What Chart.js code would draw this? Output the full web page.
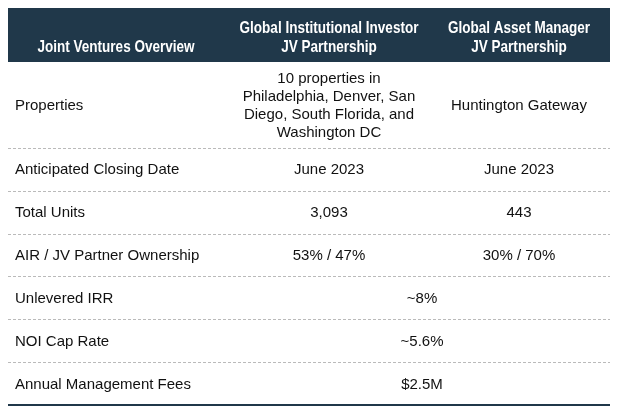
<!DOCTYPE html>
<html>
<head>
<meta charset="utf-8">
<script src="https://cdn.jsdelivr.net/npm/chart.js@4"></script>
<style>
  html, body { margin: 0; padding: 0; background: #fff; }
  canvas { display: block; }
</style>
</head>
<body>
<canvas id="myChart" width="640" height="406"></canvas>
<script>
  // table content
  const headers = [
    ['Joint Ventures Overview'],
    ['Global Institutional Investor', 'JV Partnership'],
    ['Global Asset Manager', 'JV Partnership']
  ]
  const rowLabels = ['Properties', 'Anticipated Closing Date', 'Total Units', 'AIR / JV Partner Ownership',
    'Unlevered IRR', 'NOI Cap Rate', 'Annual Management Fees']
  const institutionalJV = [
    ['10 properties in', 'Philadelphia, Denver, San', 'Diego, South Florida, and', 'Washington DC'],
    ['June 2023'], ['3,093'], ['53% / 47%'], null, null, null
  ]
  const assetManagerJV = [
    ['Huntington Gateway'], ['June 2023'], ['443'], ['30% / 70%'], null, null, null
  ]
  const combined = [null, null, null, null, ['~8%'], ['~5.6%'], ['$2.5M']]

  const ctx = document.getElementById('myChart')

  const unit = 42.875      // px per body row
  const headTop = -54 / unit

  // x in pixel units, y in row units (header above 0)
  const colX = { label: 15, head0: 116, c1: 329, c2: 519, both: 422, left: 8, right: 610 }

  const hasNarrow = (() => {
    const c = document.createElement('canvas').getContext('2d')
    c.font = 'bold 15px monospace'
    const a = c.measureText('Global Institutional Investor').width
    c.font = 'bold 15px "Liberation Sans Narrow", monospace'
    return c.measureText('Global Institutional Investor').width !== a
  })()

  const tablePlugin = {
    id: 'table',
    afterDraw(chart) {
      const g = chart.ctx
      const x = chart.scales.x, y = chart.scales.y
      const px = v => x.getPixelForValue(v)
      const py = v => y.getPixelForValue(v)

      // header band
      g.save()
      g.fillStyle = '#20384a'
      g.fillRect(px(colX.left), py(headTop), px(colX.right) - px(colX.left), py(0) - py(headTop))

      g.fillStyle = '#ffffff'
      g.textBaseline = 'middle'
      g.textAlign = 'center'
      const headFont = hasNarrow ? 'bold 16.5px "Liberation Sans Narrow"' : 'bold 16.5px "Liberation Sans", Arial'
      const sx = hasNarrow ? 1 : 0.82
      const hMid = (py(headTop) + py(0)) / 2 + 3
      const centers = [colX.head0, colX.c1, colX.c2]
      headers.forEach((lines, i) => {
        lines.forEach((t, j) => {
          const yy = lines.length === 1 ? hMid + 9.5 : hMid + (j - (lines.length - 1) / 2) * 19
          g.save()
          g.translate(px(centers[i]), yy)
          g.scale(sx, 1)
          g.font = headFont
          g.fillText(t, 0, 0)
          g.restore()
        })
      })

      // body rows
      g.font = '15px "Liberation Sans", Arial, sans-serif'
      g.fillStyle = '#111111'
      let r = 0
      rowLabels.forEach((label, i) => {
        const cells = [institutionalJV[i], assetManagerJV[i], combined[i]]
        const maxLines = Math.max(...cells.map(c => (c ? c.length : 1)))
        const span = maxLines > 1 ? 2 : 1
        const mid = py(r + span / 2) + 1

        g.textAlign = 'left'
        g.fillText(label, px(colX.label), mid)

        const drawCell = (lines, cx) => {
          if (!lines) return
          g.textAlign = 'center'
          lines.forEach((t, j) => {
            g.fillText(t, px(cx), mid + (j - (lines.length - 1) / 2) * 17.7)
          })
        }
        drawCell(institutionalJV[i], colX.c1)
        drawCell(assetManagerJV[i], colX.c2)
        drawCell(combined[i], colX.both)

        r += span
        const ly = Math.round(py(r)) + 0.5
        g.beginPath()
        if (i < rowLabels.length - 1) {
          g.strokeStyle = '#bababa'
          g.lineWidth = 1
          g.setLineDash([3, 2])
          g.moveTo(px(colX.left), ly)
          g.lineTo(px(colX.right), ly)
        } else {
          g.strokeStyle = '#20384a'
          g.lineWidth = 2
          g.setLineDash([])
          g.moveTo(px(colX.left), py(r))
          g.lineTo(px(colX.right), py(r))
        }
        g.stroke()
      })
      g.restore()
    }
  }

  new Chart(ctx, {
    type: 'scatter',
    data: { datasets: [] },
    options: {
      responsive: false,
      animation: false,
      layout: { padding: 0 },
      plugins: { legend: { display: false }, tooltip: { enabled: false } },
      scales: {
        x: { type: 'linear', display: false, min: 0, max: 640 },
        y: { type: 'linear', display: false, reverse: true, min: -62 / unit, max: 8 + 1 / unit }
      }
    },
    plugins: [tablePlugin]
  })
</script>
</body>
</html>
